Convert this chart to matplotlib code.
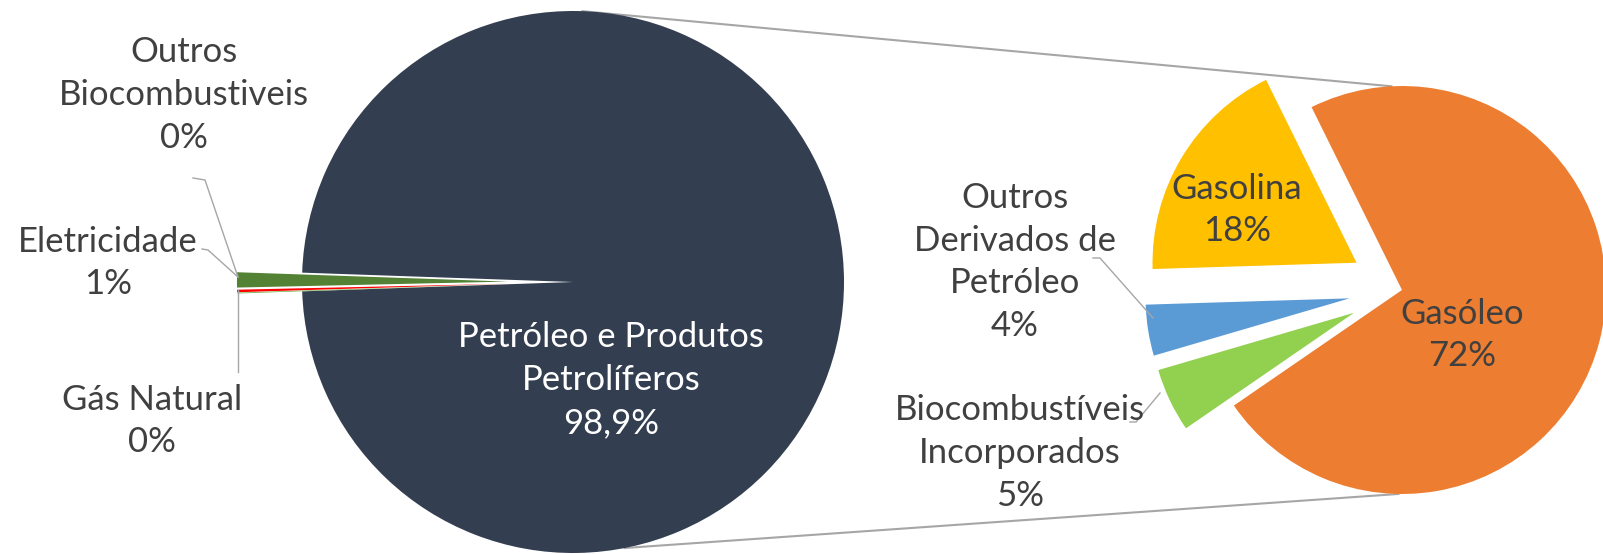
import numpy as np
import matplotlib
matplotlib.use("Agg")
import matplotlib.pyplot as plt

# main pie data
main_labels = ["Petróleo e Produtos\nPetrolíferos", "Eletricidade", "Gás Natural", "Outros\nBiocombustiveis"]
main_values = [98.9, 0.9, 0.15, 0.05]
main_pct = ["98,9%", "1%", "0%", "0%"]

# breakdown of petróleo
sub_labels = ["Gasóleo", "Gasolina", "Outros\nDerivados de\nPetróleo", "Biocombustíveis\nIncorporados"]
sub_values = [72, 18, 4, 5]
sub_pct = ["72%", "18%", "4%", "5%"]

main_colors = ["#333F50", "#548235", "#FF0000", "#70AD47"]
sub_colors = ["#ED7D31", "#FFC000", "#5B9BD5", "#92D050"]

W, H = 1603, 554
plt.rcParams["font.family"] = ["Lato", "DejaVu Sans"]
txt_col = "#404040"
fs = 25
ls = 1.42

fig = plt.figure(figsize=(W / 100, H / 100), dpi=100)
ax = fig.add_axes([0, 0, 1, 1])

# geometry (pixel units, y up)
c1 = (573, H - 282)
r1 = 271
c2 = (1402, H - 290)
r2 = 204

main_start = -180 * main_values[0] / sum(main_values)
main_explode = [0, 0.24 * r1, 0.24 * r1, 0.24 * r1]
ax.pie(main_values, colors=main_colors, startangle=main_start, counterclock=True,
       center=c1, radius=r1, explode=main_explode,
       wedgeprops=dict(linewidth=0), frame=True)

sub_start = 214.5
sub_explode = [0, 0.26 * r2, 0.26 * r2, 0.26 * r2]
ax.pie(sub_values, colors=sub_colors, startangle=sub_start, counterclock=True,
       center=c2, radius=r2, explode=sub_explode,
       wedgeprops=dict(linewidth=0), frame=True)
ax.set_xlim(0, W)
ax.set_ylim(0, H)
ax.set_aspect("equal")
ax.axis("off")

# connector lines between the two pies
def on_circle(c, r, ang):
    a = np.radians(ang)
    return c[0] + r * np.cos(a), c[1] + r * np.sin(a)

for a1, a2 in [(88, 93), (-79, -91)]:
    p1 = on_circle(c1, r1, a1)
    p2 = on_circle(c2, r2, a2)
    ax.plot([p1[0], p2[0]], [p1[1], p2[1]], color="#A6A6A6", lw=1.5, zorder=0)

def label(x, y, s, col=txt_col):
    ax.text(x, H - y, s, color=col, fontsize=fs, ha="center", va="center", linespacing=ls)

# labels inside slices
label(611, 380, main_labels[0] + "\n" + main_pct[0], "white")
label(1237, 210, sub_labels[1] + "\n" + sub_pct[1])
label(1462, 335, sub_labels[0] + "\n" + sub_pct[0])

# outside labels
label(184, 95, main_labels[3] + "\n" + main_pct[3])
label(108, 263, main_labels[1] + "\n" + main_pct[1])
label(152, 421, main_labels[2] + "\n" + main_pct[2])
label(1015, 262, sub_labels[2] + "\n" + sub_pct[2])
label(1020, 453, sub_labels[3] + "\n" + sub_pct[3])

# leader lines
lc = "#A6A6A6"
tip = (238, H - 277)
ax.plot([193, 205, tip[0]], [H - 178, H - 180, tip[1]], color=lc, lw=1)
ax.plot([202, 208, tip[0]], [H - 249, H - 250, tip[1]], color=lc, lw=1)
ax.plot([238, 238], [H - 290, H - 372], color=lc, lw=1)
ax.plot([1093, 1100, 1153], [H - 258, H - 258, H - 318], color=lc, lw=1)
ax.plot([1130, 1136, 1160], [H - 422, H - 422, H - 393], color=lc, lw=1)

fig.savefig("out.png", dpi=100, facecolor="white")
